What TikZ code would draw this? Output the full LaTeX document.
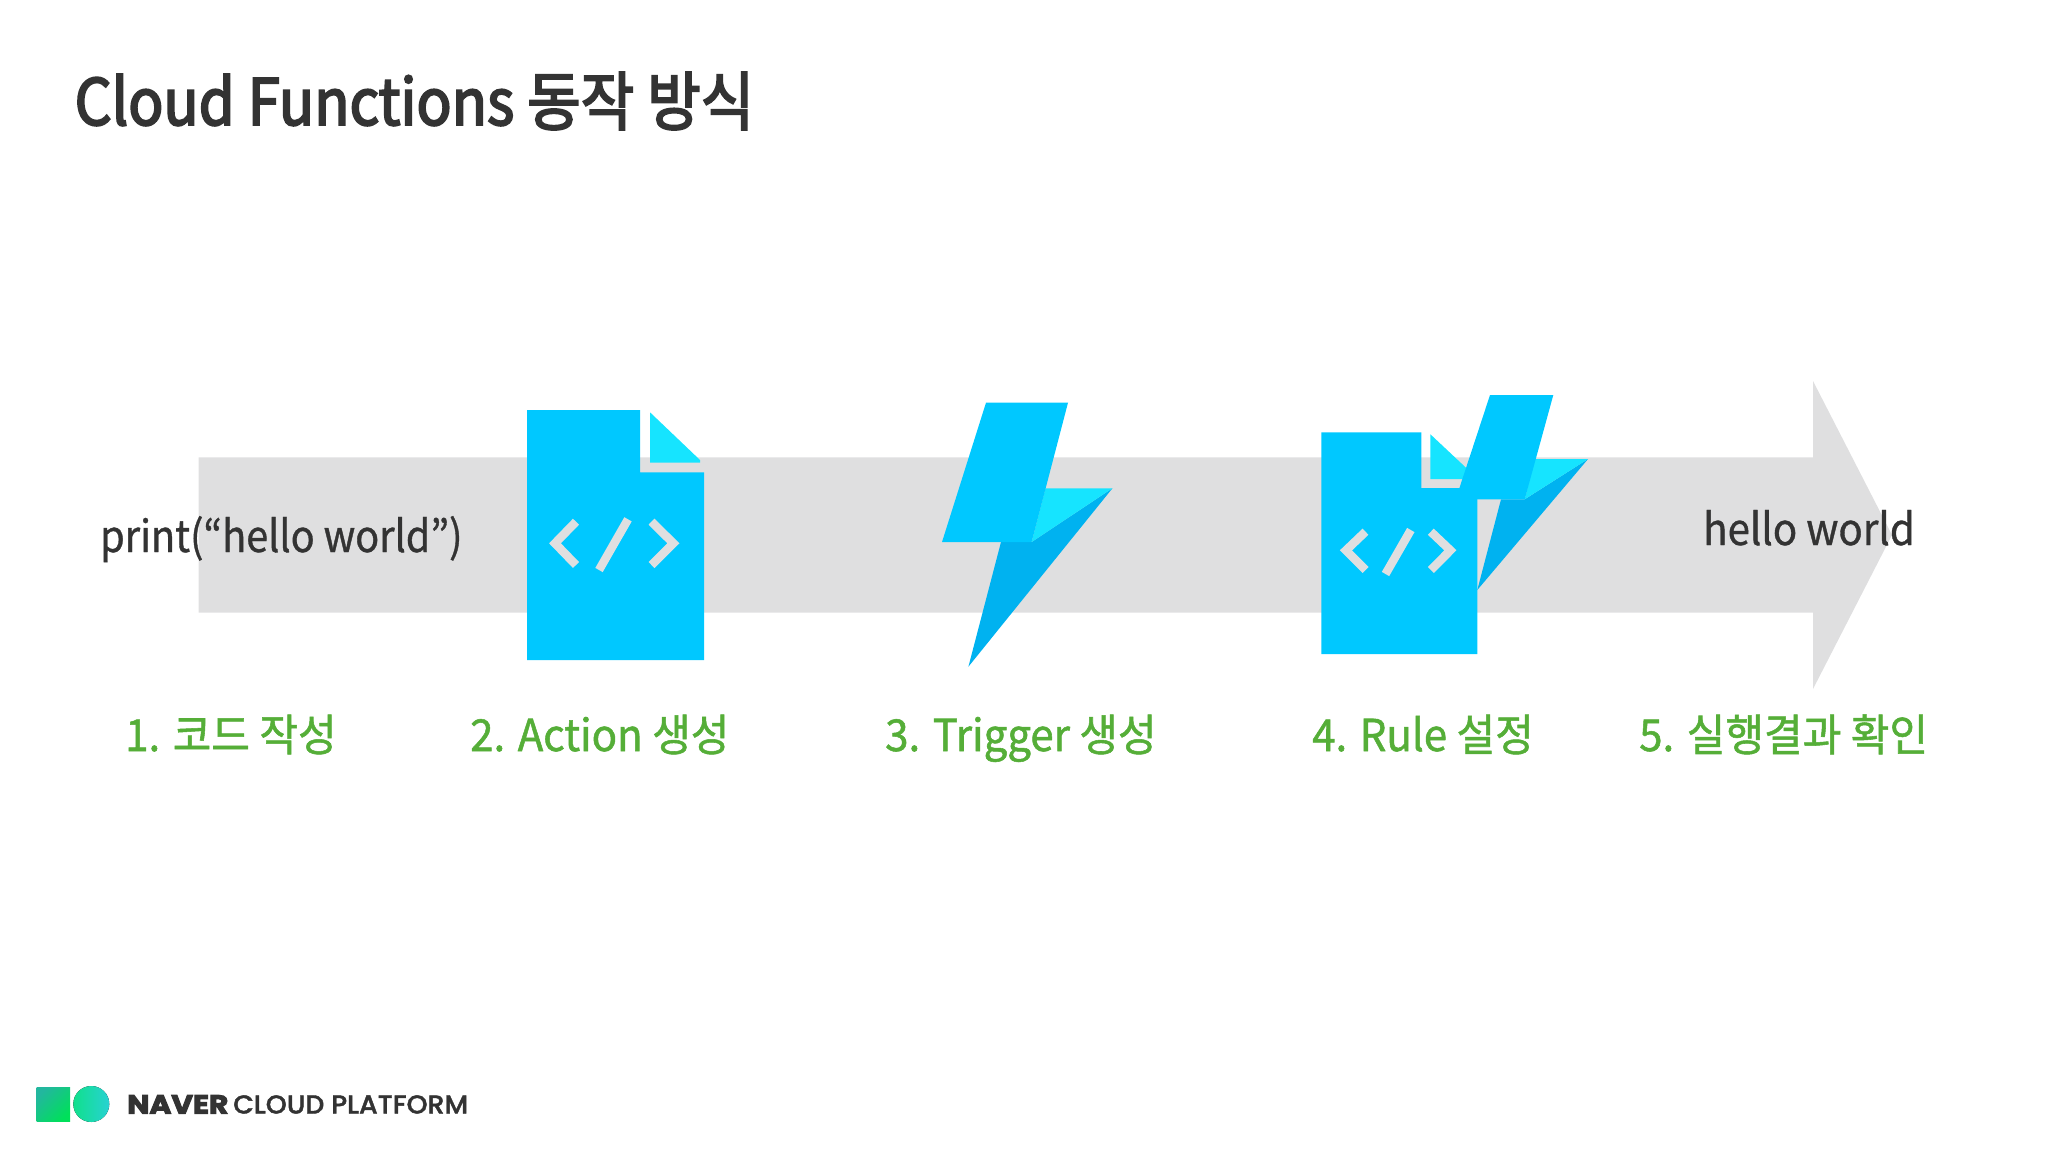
\documentclass[tikz,border=0pt]{standalone}
\usepackage{fontspec}
\usepackage{xcolor}
\setmainfont{Noto Sans CJK KR}
\newfontfamily\titlefont[FakeStretch=0.908,FakeBold=3]{Noto Sans CJK KR}
\newfontfamily\plainfont[FakeStretch=0.9,FakeBold=0.8]{Noto Sans CJK KR}
\newfontfamily\outputfont[FakeStretch=0.915,FakeBold=0.8]{Noto Sans CJK KR}
\newfontfamily\stepfont[FakeStretch=0.955,FakeBold=1.2]{Noto Sans CJK KR}
\newfontfamily\logoheavy[FakeBold=4,FakeStretch=1.14]{Poppins Bold}
\newfontfamily\logofont[FakeBold=1.5,FakeStretch=1.03]{Poppins Medium}
\definecolor{fileblue}{HTML}{00C8FF}
\definecolor{foldcyan}{HTML}{16E4FF}
\definecolor{boltdark}{HTML}{00B2F0}
\definecolor{bandgray}{HTML}{DFDFE0}
\definecolor{textdark}{HTML}{333333}
\definecolor{stepgreen}{HTML}{55AE38}
\definecolor{logoteal}{HTML}{22B79E}
\definecolor{logogreen}{HTML}{00E05A}
\definecolor{logomint}{HTML}{10E08C}
\definecolor{logocyan}{HTML}{28D2D2}
\tikzset{
    page-title/.style = {anchor=base west, inner sep=0pt, text=textdark, font=\titlefont\fontsize{64}{70}\selectfont},
    code-text/.style = {anchor=base west, inner sep=0pt, text=textdark, font=\plainfont\fontsize{44}{50}\selectfont},
    step-label/.style = {anchor=base west, inner sep=0pt, text=stepgreen, font=\stepfont\fontsize{44}{50}\selectfont},
    code-mark/.style = {draw=bandgray, line width=8.5pt, line join=miter},
    logo-text/.style = {anchor=base west, inner sep=0pt, text=textdark},
}

\begin{document}
\begin{tikzpicture}[x=1pt, y=-1pt]
\useasboundingbox (0,0) rectangle (2048,1152);

% arrow behind the steps
\fill[bandgray] (198.5,457.3) -- (1813,457.3) -- (1813,381) -- (1892,535) -- (1813,689) -- (1813,612.7) -- (198.5,612.7) -- cycle;

% file of step 2
\fill[fileblue] (527,410) -- (640,410) -- (640,472.3) -- (704,472.3) -- (704,660) -- (527,660) -- cycle;
\fill[foldcyan] (650,412.3) -- (700,460) -- (700,462.7) -- (650,462.7) -- cycle;
\draw[code-mark] (576,521.7) -- (555,543.3) -- (576,565);
\draw[code-mark] (628,519.3) -- (599,570);
\draw[code-mark] (651.5,521.7) -- (673.4,543.3) -- (651.5,565);

% bolt of step 3
\fill[boltdark] (1001,542) -- (1031.6,542) -- (1112.4,488.3) -- (968.4,666.7) -- cycle;
\fill[foldcyan] (1045.5,488.3) -- (1112.4,488.3) -- (1031.6,542) -- cycle;
\fill[fileblue] (986,402.7) -- (1068,402.7) -- (1031.6,542) -- (942,542) -- cycle;

% file and bolt of step 4
\fill[fileblue] (1321.4,432.3) -- (1421.4,432.3) -- (1421.4,488) -- (1477.3,488) -- (1477.3,654) -- (1321.4,654) -- cycle;
\fill[foldcyan] (1430.4,434.3) -- (1478,479) -- (1430.4,479) -- cycle;
\draw[code-mark] (1365.5,531.7) -- (1346,550.3) -- (1365.5,570);
\draw[code-mark] (1410.8,530) -- (1385.5,574);
\draw[code-mark] (1430.8,531.7) -- (1450.4,550.3) -- (1430.8,570);
\fill[boltdark] (1501,499.3) -- (1524.7,499.3) -- (1588,459) -- (1477.3,590) -- cycle;
\fill[foldcyan] (1534.9,459) -- (1588,459) -- (1524.7,499.3) -- cycle;
\fill[fileblue] (1490,395) -- (1553.3,395) -- (1524.7,499.3) -- (1455.7,499.3) -- cycle;

% texts
\node[page-title] (title) at (74.5,125) {Cloud Functions 동작 방식};
\node[code-text] (source) at (100,552) {print(“hello world”)};
\node[code-text, font=\outputfont\fontsize{44}{50}\selectfont] (output) at (1703,545) {hello world};
\node[step-label] (step-one) at (125,751) {1. 코드 작성};
\node[step-label] (step-two) at (470,751) {2. Action 생성};
\node[step-label] (step-three) at (885,751) {3. Trigger 생성};
\node[step-label] (step-four) at (1312,751) {4. Rule 설정};
\node[step-label] (step-five) at (1639,751) {5. 실행결과 확인};

% logo
\fill[top color=logoteal, bottom color=logogreen, shading angle=45] (36.7,1087) rectangle (70,1121.7);
\fill[left color=logomint, right color=logocyan] (91.3,1104) circle (18);
\node[logo-text, font=\logoheavy\fontsize{26}{30}\selectfont] (logo-naver) at (127,1113.5) {NAVER};
\node[logo-text, font=\logofont\fontsize{26}{30}\selectfont] (logo-cloud) at (233,1113.5) {CLOUD PLATFORM};
\end{tikzpicture}
\end{document}
